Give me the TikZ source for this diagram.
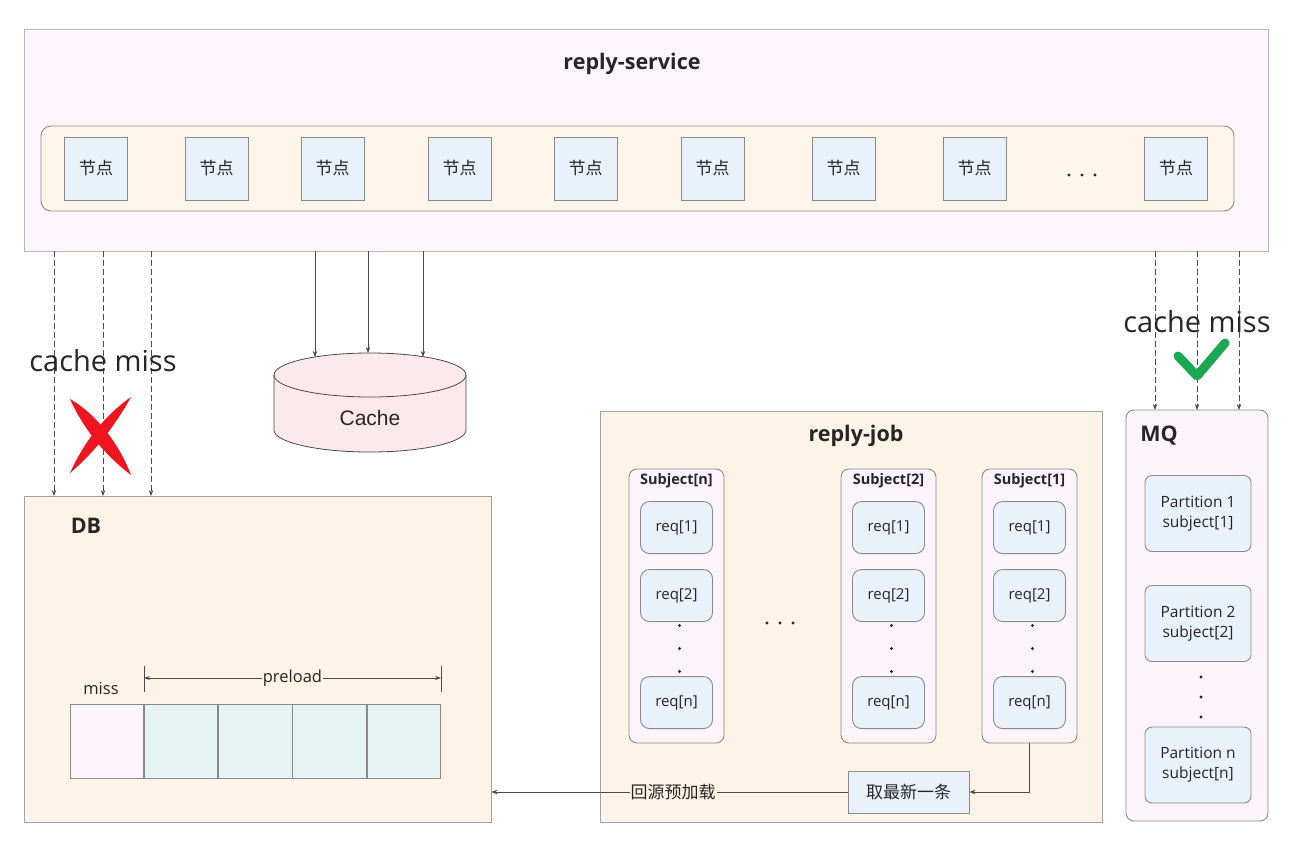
\documentclass[tikz,border=0pt]{standalone}
\usepackage{fontspec}
\setmainfont{Open Sans}
\newfontfamily\cjk{Noto Sans CJK SC}
\newfontfamily\arialf{Liberation Sans}
\usetikzlibrary{arrows.meta,fit,calc}

\definecolor{rsfill}{HTML}{FCF6FC}
\definecolor{rsdraw}{HTML}{B9B3CC}
\definecolor{stripfill}{HTML}{FDF5E9}
\definecolor{boxdraw}{HTML}{8A8A8A}
\definecolor{nodefill}{HTML}{E9F1FB}
\definecolor{creamfill}{HTML}{FDF3E7}
\definecolor{pinkfill}{HTML}{FCF4FB}
\definecolor{tealfill}{HTML}{E5F4F1}
\definecolor{cachefill}{HTML}{FCE9EC}
\definecolor{linegray}{HTML}{4A4A4A}
\definecolor{txt}{HTML}{262626}
\definecolor{xred}{HTML}{F0141E}
\definecolor{okgreen}{HTML}{1AA850}

\tikzset{
  frame/.style={inner sep=0pt, line width=0.9pt},
  title/.style={font=\bfseries\fontsize{21.5}{24}\selectfont, text=txt},
  nodebox/.style={draw=boxdraw, fill=nodefill, line width=0.9pt, minimum width=63pt, minimum height=63pt,
    inner sep=0pt, font=\cjk\fontsize{17}{20}\selectfont, text=txt},
  reqbox/.style={draw=boxdraw, fill=nodefill, line width=0.9pt, rounded corners=9pt, minimum width=72pt,
    minimum height=52pt, inner sep=0pt, font=\fontsize{15}{17}\selectfont, text=txt},
  partbox/.style={draw=boxdraw, fill=nodefill, line width=0.9pt, rounded corners=7pt, minimum width=106pt,
    minimum height=76pt, inner sep=0pt, align=center, font=\fontsize{15.5}{20}\selectfont, text=txt},
  subjtitle/.style={font=\bfseries\fontsize{14.5}{16}\selectfont, text=txt},
  cell/.style={draw=boxdraw, line width=0.9pt, minimum width=73.4pt, minimum height=74pt, inner sep=0pt},
  arr/.style={draw=linegray, line width=0.7pt, -{Stealth[length=6pt,width=4.5pt]}},
  dasharr/.style={arr, dash pattern=on 6pt off 3pt},
  bigtxt/.style={font=\fontsize{29}{32}\selectfont, text=txt},
  smalltxt/.style={font=\fontsize{16.5}{18}\selectfont, text=txt},
  cjktxt/.style={font=\cjk\fontsize{17}{20}\selectfont, text=txt},
  dot/.style={fill=txt},
}

\begin{document}
\begin{tikzpicture}[x=1pt,y=-1pt]
\fill[white] (0,0) rectangle (1306,852);
\useasboundingbox (0,0) rectangle (1306,852);

% ---------------- reply-service ----------------
\node[frame, fit={(24,29) (1268,251)}, draw=rsdraw, fill=rsfill] (rs) {};
\node[title] (rstitle) at (632,64) {reply-service};
\node[frame, fit={(41,126) (1234,211)}, draw=boxdraw, fill=stripfill, rounded corners=10pt] (strip) {};
\foreach \i/\x in {1/96,2/216.5,3/332.5,4/459.5,5/585.5,6/712.5,7/843.5,8/974.5,9/1176}
  \node[nodebox] (n\i) at (\x,168.5) {节点};
\foreach \dx in {-13,0,13} \fill[dot] (1082+\dx,175) circle (1.7);

% ---------------- Cache cylinder ----------------
\path[draw=linegray, line width=0.8pt, fill=cachefill]
  (274,375) -- (274,430) arc[start angle=180, end angle=0, x radius=96, y radius=22]
  -- (466,375) arc[start angle=0, end angle=-180, x radius=96, y radius=22] -- cycle;
\draw[linegray, line width=0.8pt] (274,375) arc[start angle=180, end angle=0, x radius=96, y radius=22];
\node[font=\arialf\fontsize{21}{24}\selectfont, text=txt] (cache) at (370,418) {Cache};
\coordinate (ct1) at (315,357);
\coordinate (ct2) at (368,353);
\coordinate (ct3) at (423,357);
\foreach \c in {ct1,ct2,ct3} \draw[arr] (rs.south -| \c) -- (\c);

% ---------------- DB ----------------
\node[frame, fit={(24,496) (491,822)}, draw=boxdraw!80, fill=creamfill] (db) {};
\node[title] (dbtitle) at (86,526) {DB};
\node[cell, fill=pinkfill] (c0) at (106.7,741) {};
\foreach \i/\p in {1/0,2/1,3/2,4/3}
  \node[cell, fill=tealfill, anchor=west] (c\i) at (c\p.east) {};
\node[smalltxt] (misslbl) at (101,689) {miss};
\coordinate (pl) at (c1.north west |- 0,678);
\coordinate (pr) at (c4.north east |- 0,678);
\draw[linegray, line width=0.7pt] ($(pl)+(0,-12)$) -- ($(pl)+(0,14)$);
\draw[linegray, line width=0.7pt] ($(pr)+(0,-12)$) -- ($(pr)+(0,14)$);
\draw[linegray, line width=0.7pt, {Stealth[length=6pt,width=4pt]}-{Stealth[length=6pt,width=4pt]}]
  (pl) -- node[fill=creamfill, inner sep=1pt, smalltxt] {preload} (pr);

% dashed cache-miss paths into DB
\foreach \x [count=\k] in {54,103,151} {
  \coordinate (dd\k) at (\x,496);
  \draw[dasharr] (rs.south -| dd\k) -- (dd\k);
}
\node[bigtxt] (miss1) at (103,361) {cache miss};
% red cross
\fill[xred] (70,399) .. controls (98,415) and (120,446) .. (131,475)
              .. controls (106,456) and (84,430) .. cycle;
\fill[xred] (131,397) .. controls (116,424) and (96,451) .. (70,473)
              .. controls (84,442) and (104,416) .. cycle;

% ---------------- reply-job ----------------
\node[frame, fit={(600,411) (1102,822)}, draw=boxdraw!80, fill=creamfill] (job) {};
\node[title] (jobtitle) at (856,436) {reply-job};
\foreach \s/\lbl/\xa/\xb in {sn/n/629/724, s2/2/841/936, s1/1/982/1077} {
  \node[frame, fit={(\xa,469) (\xb,743)}, draw=boxdraw, fill=pinkfill, rounded corners=8pt] (\s) {};
  \node[subjtitle] at ($(\s.north)+(0,12)$) {Subject[\lbl]};
  \node[reqbox] (\s r1) at ($(\s.north)+(0,59)$) {req[1]};
  \node[reqbox] (\s r2) at ($(\s.north)+(0,127)$) {req[2]};
  \node[reqbox] (\s rn) at ($(\s.north)+(0,234)$) {req[n]};
  \foreach \dy in {157,180,203} \fill[dot] ($(\s.north)+(3,\dy)$) circle (1.6);
}
\foreach \dx in {-13,0,13} \fill[dot] (780+\dx,623) circle (1.7);
\node[frame, fit={(848,771) (969,813)}, draw=boxdraw, fill=nodefill] (take) {};
\node[cjktxt] at (take.center) {取最新一条};
\draw[arr] (s1.south) |- (take.east);
\draw[arr] (take.west) -- node[pos=0.49, fill=creamfill, inner sep=1pt, cjktxt] {回源预加载} (take.west -| db.east);

% ---------------- MQ ----------------
\node[frame, fit={(1126,410) (1268,821)}, draw=boxdraw, fill=pinkfill, rounded corners=8pt] (mq) {};
\node[title] (mqtitle) at (1159,436) {MQ};
\node[partbox] (p1) at (1198,513.5) {Partition 1\\subject[1]};
\node[partbox] (p2) at (1198,623.5) {Partition 2\\subject[2]};
\node[partbox] (pn) at (1198,765) {Partition n\\subject[n]};
\foreach \y in {677,697,717} \fill[dot] (1201,\y) circle (1.6);
\foreach \x [count=\k] in {1155,1197,1239} {
  \coordinate (mm\k) at (\x,410);
  \draw[dasharr] (rs.south -| mm\k) -- (mm\k);
}
\node[bigtxt] (miss2) at (1197,322) {cache miss};
\draw[okgreen, line width=9pt, line cap=round, line join=round] (1178,356) -- (1197,376) -- (1225,343);
\end{tikzpicture}
\end{document}
